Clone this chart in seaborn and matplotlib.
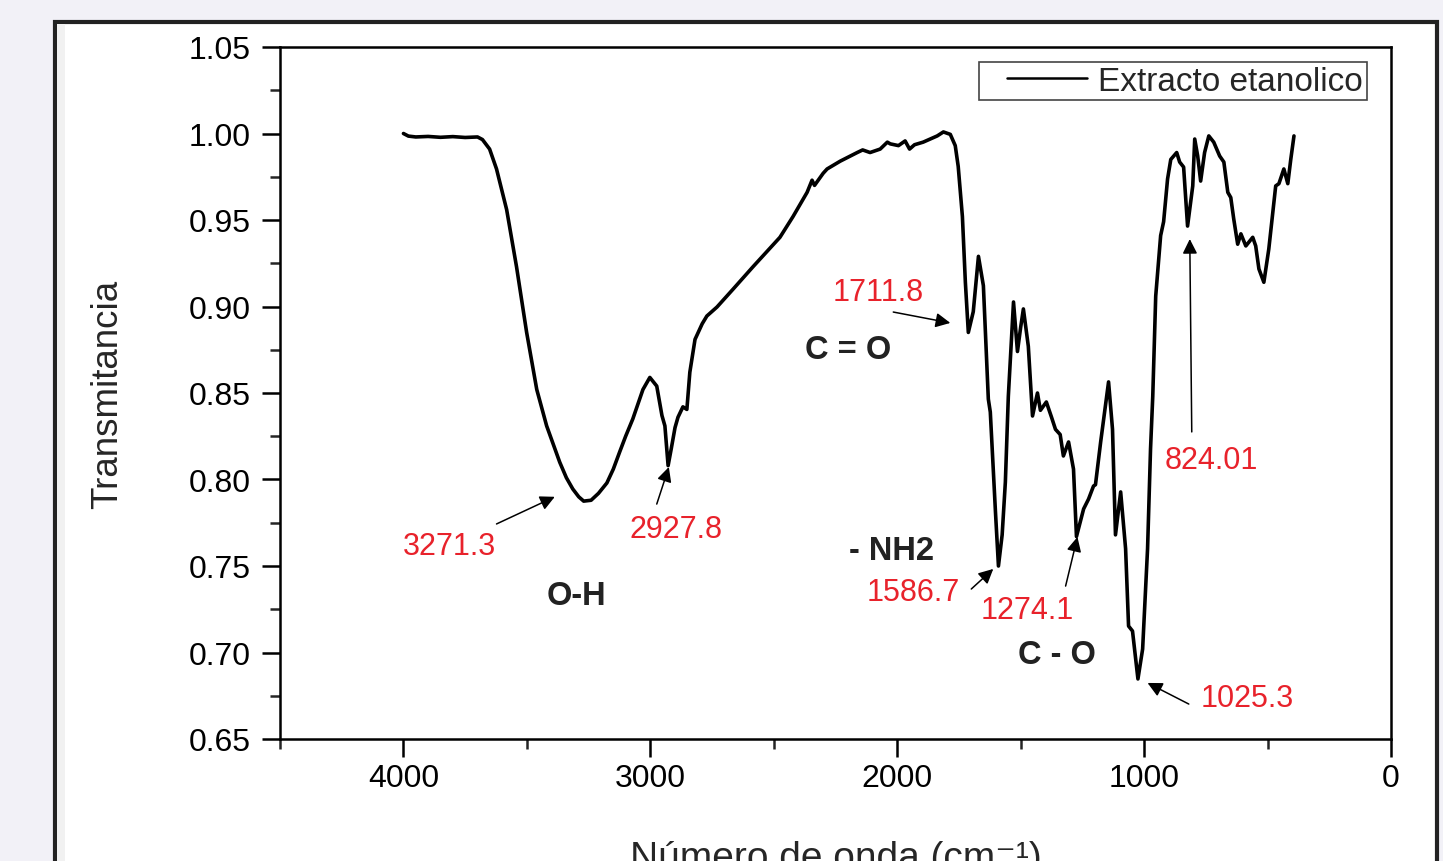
import numpy as np
import pandas as pd
import matplotlib
matplotlib.use("Agg")
import matplotlib.pyplot as plt
from matplotlib.patches import Rectangle
from matplotlib.legend_handler import HandlerLine2D
from matplotlib.lines import Line2D
from matplotlib.ticker import MultipleLocator, FormatStrFormatter
import seaborn as sns

# FTIR spectrum
wavenumber = [4000, 3980, 3950, 3900, 3850, 3800, 3750, 3700, 3680, 3651,
              3623, 3582, 3542, 3501, 3460, 3420, 3367, 3340, 3314, 3290,
              3270, 3240, 3210, 3176, 3150, 3124, 3100, 3071, 3030, 3002,
              2974, 2953, 2941, 2928, 2915, 2900, 2888, 2868, 2852, 2840,
              2819, 2790, 2771, 2730, 2665, 2584, 2475, 2422, 2365, 2345,
              2335, 2300, 2284, 2231, 2190, 2162, 2140, 2110, 2069, 2040,
              2028, 1995, 1968, 1950, 1930, 1895, 1838, 1813, 1785, 1765,
              1753, 1736, 1724, 1712, 1692, 1671, 1651, 1631, 1623, 1602,
              1590, 1575, 1562, 1550, 1529, 1513, 1500, 1489, 1469, 1452,
              1432, 1420, 1396, 1375, 1359, 1340, 1327, 1306, 1286, 1274,
              1245, 1225, 1205, 1197, 1176, 1144, 1128, 1116, 1095, 1075,
              1063, 1047, 1025, 1006, 986, 974, 965, 953, 933, 921,
              905, 892, 868, 856, 840, 824, 803, 795, 783, 771,
              755, 738, 718, 694, 677, 661, 649, 637, 621, 608,
              588, 560, 548, 535, 515, 495, 467, 454, 434, 418,
              406, 393]
transmit = [1.000, 0.9985, 0.998, 0.9983, 0.9978, 0.9982, 0.9977, 0.998, 0.9965, 0.991,
            0.9795, 0.956, 0.923, 0.885, 0.852, 0.831, 0.810, 0.801, 0.7945, 0.790,
            0.7875, 0.788, 0.792, 0.798, 0.806, 0.816, 0.825, 0.835, 0.852, 0.859,
            0.854, 0.837, 0.831, 0.808, 0.818, 0.830, 0.836, 0.842, 0.8405, 0.862,
            0.881, 0.890, 0.8945, 0.8997, 0.910, 0.923, 0.940, 0.952, 0.966, 0.973,
            0.970, 0.977, 0.9795, 0.984, 0.987, 0.989, 0.9905, 0.989, 0.991, 0.995,
            0.994, 0.993, 0.9957, 0.991, 0.9935, 0.995, 0.9986, 1.0009, 0.9995, 0.993,
            0.981, 0.952, 0.914, 0.885, 0.897, 0.929, 0.912, 0.8465, 0.839, 0.781,
            0.750, 0.768, 0.7985, 0.848, 0.9026, 0.874, 0.888, 0.8986, 0.877, 0.8367,
            0.850, 0.840, 0.8448, 0.836, 0.829, 0.826, 0.8136, 0.8217, 0.806, 0.767,
            0.783, 0.7887, 0.7962, 0.797, 0.8217, 0.8564, 0.829, 0.768, 0.7928, 0.760,
            0.7153, 0.7124, 0.6847, 0.702, 0.760, 0.8176, 0.848, 0.906, 0.941, 0.949,
            0.9737, 0.985, 0.989, 0.9835, 0.9806, 0.9465, 0.9697, 0.9968, 0.987, 0.9725,
            0.989, 0.9986, 0.995, 0.987, 0.9835, 0.966, 0.963, 0.9506, 0.936, 0.942,
            0.935, 0.940, 0.935, 0.9217, 0.914, 0.9332, 0.9697, 0.971, 0.9795, 0.971,
            0.985, 0.9986]

# peak labels
peak_labels = ["3271.3", "2927.8", "1711.8", "1586.7", "1274.1", "824.01", "1025.3"]
# (text x, text y, arrow tail x, tail y, head x, head y)
peak_pos = [(3813, 0.7616, 3623, 0.7743, 3387, 0.790),
            (2897, 0.7714, 2974, 0.7858, 2925, 0.8072),
            (2077, 0.9084, 2016, 0.8968, 1785, 0.8905),
            (1935, 0.7350, 1700, 0.7367, 1611, 0.7483),
            (1473, 0.7246, 1318, 0.7384, 1270, 0.7668),
            (726, 0.8113, 807, 0.8275, 815, 0.939),
            (584, 0.6737, 819, 0.6702, 986, 0.6824)]
group_labels = ["O-H", "C = O", "- NH2", "C - O"]
group_pos = [(3298, 0.7327), (2199, 0.8749), (2024, 0.7587), (1355, 0.6986)]

df = pd.DataFrame({"Numero": wavenumber, "T": transmit})

sns.set_style("ticks")
plt.rcParams["font.family"] = ["Liberation Sans", "DejaVu Sans"]

fig = plt.figure(figsize=(14.43, 8.62), dpi=100, facecolor="#f2f1f7")
fig.patches.append(Rectangle((55 / 1443, -0.05), (1437 - 55) / 1443, (862 - 23) / 862 + 0.05,
                             transform=fig.transFigure, facecolor="white",
                             edgecolor="#222222", lw=3, zorder=-5))
fig.patches.append(Rectangle((57 / 1443, -0.05), 8 / 1443, (862 - 25) / 862 + 0.05,
                             transform=fig.transFigure, facecolor="#f1f1f1",
                             edgecolor="none", zorder=-4))
ax = fig.add_axes([280 / 1443, (862 - 740) / 862, (1391 - 280) / 1443, (740 - 48) / 862])
ax.set_facecolor("white")

sns.lineplot(data=df, x="Numero", y="T", sort=False, estimator=None, color="black",
             lw=2.6, ax=ax, label="Extracto etanolico")

ax.set_xlim(4500, 0)
ax.set_ylim(0.65, 1.05)
ax.xaxis.set_major_locator(MultipleLocator(1000))
ax.xaxis.set_minor_locator(MultipleLocator(500))
ax.yaxis.set_major_locator(MultipleLocator(0.05))
ax.yaxis.set_minor_locator(MultipleLocator(0.025))
ax.yaxis.set_major_formatter(FormatStrFormatter("%.2f"))
ax.tick_params(which="major", direction="out", length=13, width=1.8, labelsize=23,
               colors="black")
ax.tick_params(axis="y", which="major", pad=8)
ax.tick_params(axis="x", which="major", pad=4)
ax.tick_params(which="minor", direction="out", length=7, width=1.8)
ax.tick_params(top=False, right=False, which="both")
for s in ax.spines.values():
    s.set_visible(True)
    s.set_linewidth(1.8)
    s.set_color("black")

ax.set_ylabel("Transmitancia", fontsize=26.5, labelpad=46)
ax.set_xlabel("Número de onda (cm⁻¹)", fontsize=28, labelpad=34)

for lab, (tx, ty, ax0, ay0, hx, hy) in zip(peak_labels, peak_pos):
    ax.text(tx, ty, lab, color="#e8222b", fontsize=22, ha="center", va="center")
    ax.annotate("", xy=(hx, hy), xytext=(ax0, ay0),
                arrowprops=dict(arrowstyle="-|>", color="black", lw=1.1,
                                mutation_scale=22, shrinkA=0, shrinkB=0))
for lab, (tx, ty) in zip(group_labels, group_pos):
    ax.text(tx, ty, lab, color="#222222", fontsize=23.5, fontweight="bold",
            ha="center", va="center")

handles, labels = ax.get_legend_handles_labels()
leg = ax.legend(handles, labels, loc="upper right", bbox_to_anchor=(0.978, 0.978),
                fontsize=24, frameon=True, fancybox=False, framealpha=1,
                edgecolor="#444444", handlelength=3.14, borderpad=0.1,
                handletextpad=0.33, borderaxespad=0,
                handler_map={Line2D: HandlerLine2D(xpad=0.74)})
leg.get_frame().set_linewidth(1.2)
for line in leg.get_lines():
    line.set_linewidth(1.8)

fig.savefig("out.png", dpi=100, facecolor=fig.get_facecolor())
